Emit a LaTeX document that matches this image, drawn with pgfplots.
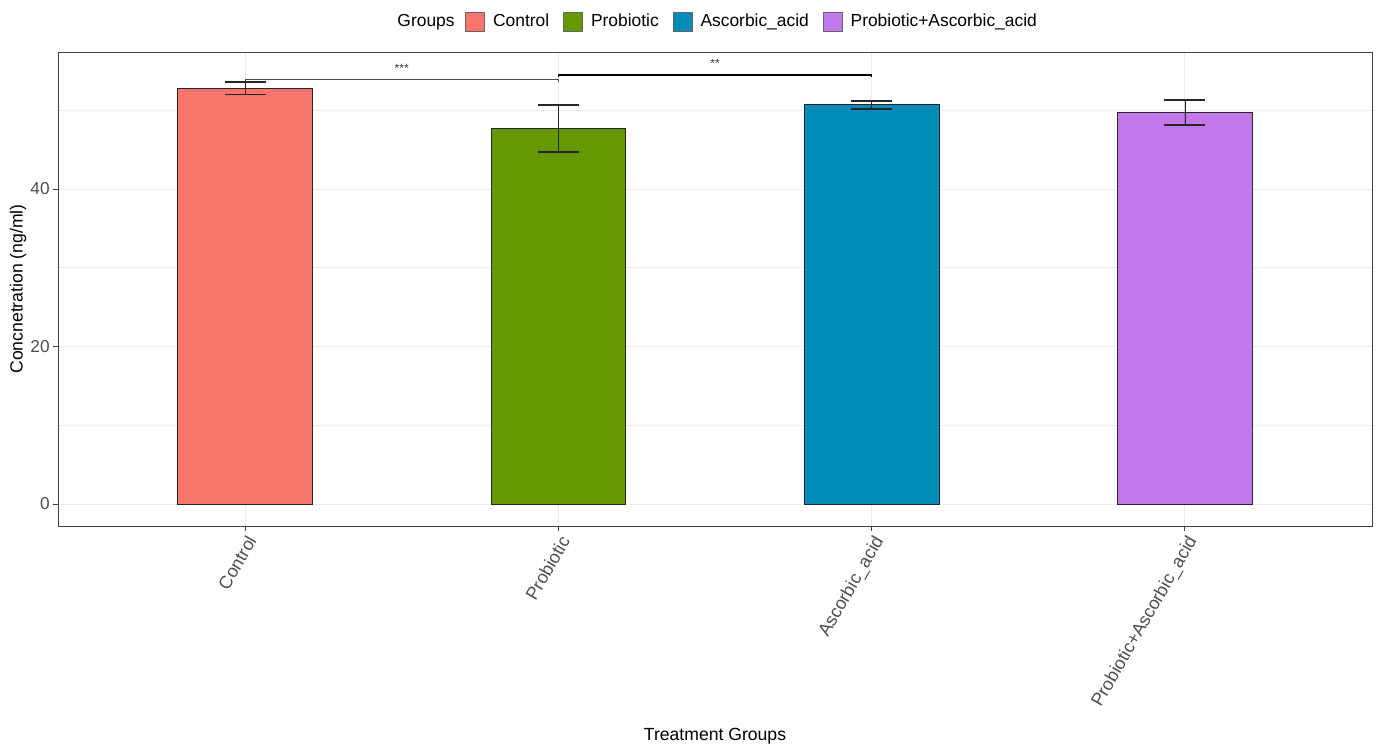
\documentclass[border=0pt]{standalone}
\usepackage{pgfplots}
\pgfplotsset{compat=1.18}
\usepackage{fontspec}
\setmainfont{Liberation Sans}
\definecolor{cControl}{HTML}{F8766D}
\definecolor{cProb}{HTML}{669900}
\definecolor{cAsc}{HTML}{008BB8}
\definecolor{cPA}{HTML}{C377EC}
\definecolor{grey30}{HTML}{4D4D4D}
\definecolor{grey92}{HTML}{EBEBEB}
\begin{document}
\begin{tikzpicture}
\useasboundingbox (-29pt,-110pt) rectangle (659pt,263pt);
\begin{axis}[
  scale only axis,
  clip=false,
  width=657pt, height=237pt,
  xmin=-0.597, xmax=3.597,
  ymin=-2.79, ymax=57.4,
  xtick={0,1,2,3},
  xticklabels={Control,Probiotic,Ascorbic\_acid,Probiotic+Ascorbic\_acid},
  ytick={0,20,40},
  minor ytick={10,30,50},
  grid=both,
  major grid style={grey92, line width=0.5pt},
  minor grid style={grey92, line width=0.35pt},
  axis line style={black!75, line width=0.5pt},
  tick style={black!75, line width=0.5pt},
  tick align=outside,
  major tick length=2.5pt,
  minor tick length=0pt,
  xtick pos=bottom, ytick pos=left,
  ticklabel style={font=\fontsize{8.6}{10}\selectfont, text=grey30},
  xticklabel style={rotate=60, anchor=north east, inner sep=1pt, font=\fontsize{9}{10}\selectfont},
  yticklabel style={inner sep=1.5pt},
  /pgf/number format/assume math mode=true,
  xlabel={Treatment Groups},
  ylabel={Concnetration (ng/ml)},
  label style={font=\fontsize{8.8}{10}\selectfont},
  xlabel style={at={(axis description cs:0.5,-0.443)}, anchor=center},
  ylabel style={at={(axis description cs:-0.0304,0.5)}, anchor=center, rotate=0},
  ybar, bar width=0.43, bar shift=0pt,
  legend style={at={(axis description cs:0.3097,1.063)}, anchor=west, draw=none, fill=none,
    legend columns=4, font=\fontsize{8.7}{10}\selectfont,
    /tikz/every even column/.append style={column sep=5pt},
    /tikz/every odd column/.append style={column sep=2pt},
    inner sep=0pt},
  legend image code/.code={\draw[#1, draw=black!60, line width=0.4pt] (0pt,-4.75pt) rectangle (9.5pt,4.75pt);},
  every axis plot/.append style={draw=black!85, line width=0.4pt},
  error bars/y dir=both, error bars/y explicit,
  error bars/error bar style={black!85, line width=0.45pt},
  error bars/error mark options={black!85, line width=0.8pt, mark size=10.25pt, rotate=90},
]
\addplot[fill=cControl] coordinates {(0,52.8) +- (0,0.8)};
\addlegendentry{Control}
\addplot[fill=cProb] coordinates {(1,47.7) +- (0,3.0)};
\addlegendentry{Probiotic}
\addplot[fill=cAsc] coordinates {(2,50.7) +- (0,0.5)};
\addlegendentry{Ascorbic\_acid}
\addplot[fill=cPA] coordinates {(3,49.7) +- (0,1.6)};
\addlegendentry{Probiotic+Ascorbic\_acid}
% significance brackets
\addplot[sharp plot, draw=black!70, line width=0.4pt, forget plot, no markers, error bars/y dir=none]
  coordinates {(0,53.6) (0,53.9) (1,53.9) (1,53.6)};
\addplot[sharp plot, draw=black, line width=0.75pt, forget plot, no markers, error bars/y dir=none]
  coordinates {(1,54.2) (1,54.5) (2,54.5) (2,54.2)};
\node[font=\fontsize{6}{7}\selectfont, text=black!80] at (axis cs:0.5,55.3) {***};
\node[font=\fontsize{6}{7}\selectfont, text=black!80] at (axis cs:1.5,55.9) {**};
\node[anchor=east, font=\fontsize{8.7}{10}\selectfont, inner sep=0pt] at (axis description cs:0.3021,1.063) {Groups};
\end{axis}
\end{tikzpicture}
\end{document}
